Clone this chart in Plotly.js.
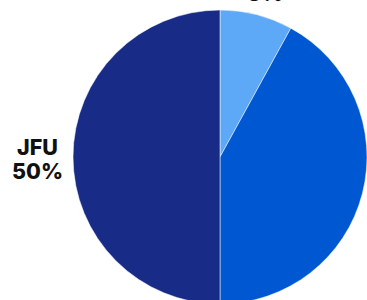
<!DOCTYPE html>
<html>
<head>
<meta charset="utf-8">
<script src="https://cdn.plot.ly/plotly-3.0.1.min.js"></script>
<style>
html,body{margin:0;padding:0;overflow:hidden;width:367px;height:300px;background:#fff;}
#chart{width:440px;height:320px;}
</style>
</head>
<body>
<div id="chart"></div>
<script>
const categories = ["FPU", "JFC", "JFU"];
const values = [8, 42, 50];
const colors = ["#5EA8F8", "#0057D2", "#182B87"];

// figure geometry (pixels) used to place the outside labels
const W = 440, H = 320, M = {l: 0, r: 0, t: 10, b: 16};
const pw = W - M.l - M.r, ph = H - M.t - M.b;
const px2x = x => (x - M.l) / pw;
const px2y = y => 1 - (y - M.t) / ph;

// label anchor points (pixels): [labelLineCenter, percentLineCenter]
const labelPos = [
  {x: 265, y1: -31, y2: -7, anchor: "center"},
  {x: 382, y1: 170, y2: 194, anchor: "left"},
  {x: 37.5, y1: 146.7, y2: 170.8, anchor: "center"}
];

const total = values.reduce((a, b) => a + b, 0);
const font = {family: "Inter, Roboto, sans-serif", size: 21.5, color: "#111111", weight: 800};
const annotations = [];
categories.forEach((c, i) => {
  const pct = Math.round(values[i] / total * 100) + "%";
  const p = labelPos[i];
  annotations.push({text: c, x: px2x(p.x), y: px2y(p.y1), xref: "paper", yref: "paper",
    xanchor: p.anchor, yanchor: "middle", showarrow: false, font: font});
  annotations.push({text: pct, x: px2x(p.x), y: px2y(p.y2), xref: "paper", yref: "paper",
    xanchor: p.anchor, yanchor: "middle", showarrow: false, font: font});
});

Plotly.newPlot("chart", [{
  type: "pie",
  labels: categories,
  values: values,
  sort: false,
  direction: "clockwise",
  rotation: 0,
  marker: {colors: colors, line: {color: "#ffffff", width: 0.5}},
  textinfo: "none",
  hoverinfo: "none"
}], {
  width: W,
  height: H,
  margin: M,
  showlegend: false,
  paper_bgcolor: "#ffffff",
  annotations: annotations
}, {staticPlot: true});
</script>
</body>
</html>
